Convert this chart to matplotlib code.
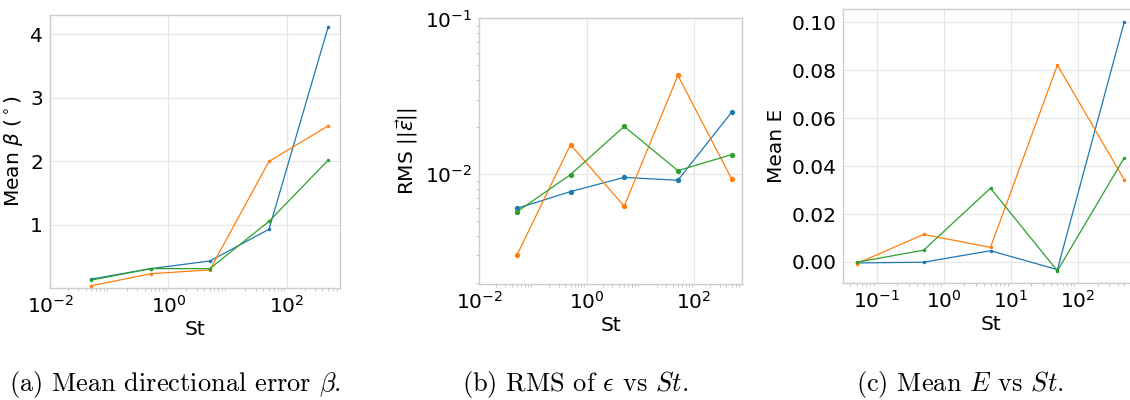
import matplotlib
matplotlib.use('Agg')
import matplotlib.pyplot as plt

# Stokes numbers of the runs
st = [0.05, 0.5, 5, 50, 500]

# mean directional error beta (degrees), one list per run set
beta_blue = [0.145, 0.31, 0.43, 0.93, 4.12]
beta_orange = [0.04, 0.23, 0.29, 2.0, 2.56]
beta_green = [0.13, 0.31, 0.31, 1.055, 2.02]

# RMS of the error vector
rms_blue = [0.0060, 0.0077, 0.0095, 0.0091, 0.0249]
rms_orange = [0.0030, 0.0154, 0.0062, 0.0430, 0.0093]
rms_green = [0.0057, 0.0099, 0.0202, 0.0105, 0.0133]

# mean E
e_blue = [-0.0004, -0.0001, 0.0047, -0.0032, 0.1003]
e_orange = [-0.0007, 0.0115, 0.0061, 0.0822, 0.0343]
e_green = [-0.0001, 0.0049, 0.0308, -0.0037, 0.0435]

colors = ['#1f77b4', '#ff7f0e', '#2ca02c']

plt.rcParams['font.size'] = 14.5
plt.rcParams['xtick.major.size'] = 0
plt.rcParams['ytick.major.size'] = 0
plt.rcParams['xtick.minor.size'] = 2
plt.rcParams['ytick.minor.size'] = 2
plt.rcParams['xtick.major.pad'] = 5
plt.rcParams['ytick.major.pad'] = 5

fig = plt.figure(figsize=(11.3, 4.0), dpi=100)

ax1 = fig.add_axes([0.0443, 0.28, 0.2566, 0.683])
ax2 = fig.add_axes([0.4242, 0.29, 0.2327, 0.664])
ax3 = fig.add_axes([0.7463, 0.2918, 0.2605, 0.685])


def style(ax):
    ax.set_xscale('log')
    ax.grid(True, which='major', color='#e6e6e6', linewidth=0.8)
    ax.set_axisbelow(True)
    ax.tick_params(which='minor', color='#bbbbbb')
    for s in ax.spines.values():
        s.set_color('#cccccc')
        s.set_linewidth(1.0)
    ax.set_xlabel('St', labelpad=2)


# (a) mean beta
for ys, c in zip([beta_blue, beta_orange, beta_green], colors):
    ax1.plot(st, ys, color=c, linewidth=0.9, marker='o', markersize=1.5)
style(ax1)
ax1.set_xlim(left=1e-2)
ax1.set_ylim(0.005, 4.31)
ax1.set_yticks([1, 2, 3, 4])
ax1.set_xticks([1e-2, 1e0, 1e2])
ax1.set_ylabel(r'Mean $\beta$ ($^\circ$)')

# (b) RMS error
for ys, c in zip([rms_blue, rms_orange, rms_green], colors):
    ax2.plot(st, ys, color=c, linewidth=0.9, marker='o', markersize=2.8)
style(ax2)
ax2.set_yscale('log')
ax2.set_xlim(left=1e-2)
ax2.set_ylim(0.00196, 0.1)
ax2.set_xticks([1e-2, 1e0, 1e2])
ax2.tick_params(which='minor', color='#bbbbbb')
ax2.set_ylabel(r'RMS $||\vec{\varepsilon}||$')

# (c) mean E
for ys, c in zip([e_blue, e_orange, e_green], colors):
    ax3.plot(st, ys, color=c, linewidth=0.9, marker='o', markersize=1.5)
style(ax3)
ax3.set_yticks([0.0, 0.02, 0.04, 0.06, 0.08, 0.10])
ax3.set_yticklabels(['0.00', '0.02', '0.04', '0.06', '0.08', '0.10'])
ax3.set_ylabel('Mean E')

# sub-figure captions
cap = dict(family='cmr10', math_fontfamily='cm', fontsize=19,
           ha='center', va='center')
fig.text(175 / 1130, 1 - 384 / 400, r'(a) Mean directional error $\beta$.', **cap)
fig.text(575 / 1130, 1 - 384 / 400, r'(b) RMS of $\epsilon$ vs $St$.', **cap)
fig.text(960 / 1130, 1 - 384 / 400, r'(c) Mean $E$ vs $St$.', **cap)

fig.savefig('out.png', dpi=100)
